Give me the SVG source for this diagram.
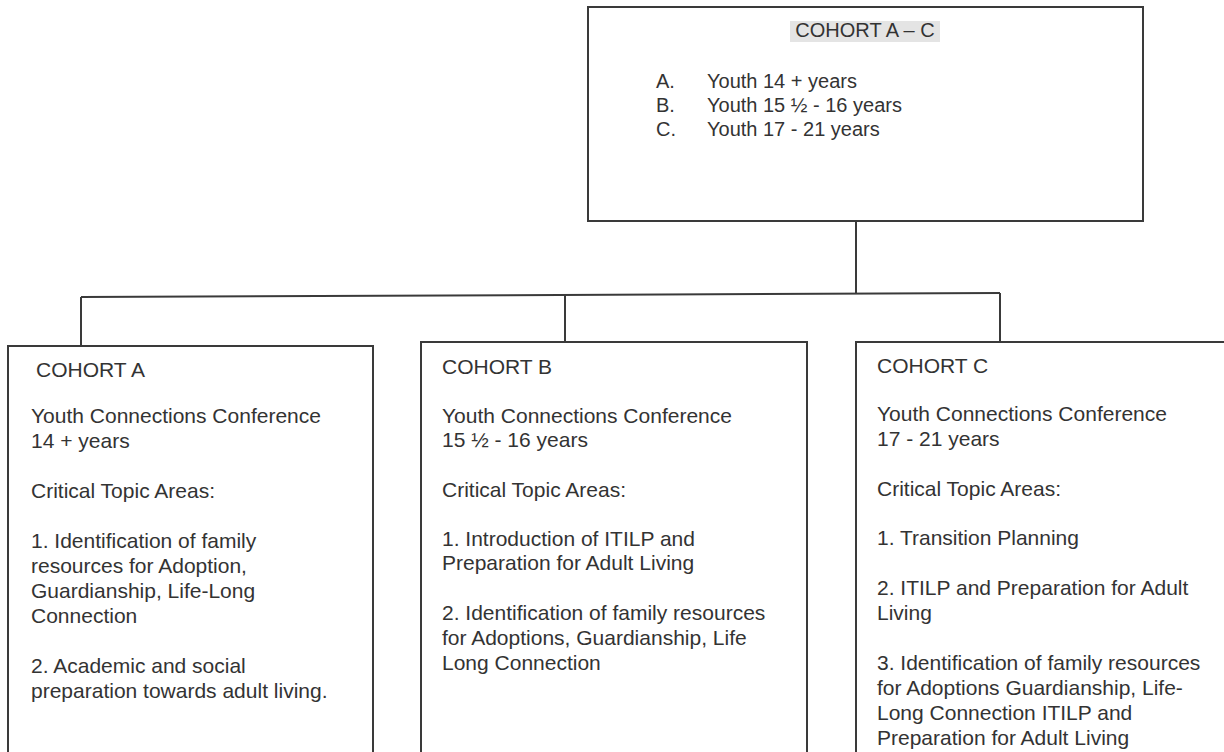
<svg xmlns="http://www.w3.org/2000/svg" width="1224" height="752" viewBox="0 0 1224 752">
<style>
.box{fill:#fff;stroke:#3a3a3a;stroke-width:2}
.t{font-family:"Liberation Sans",Arial,sans-serif;font-size:21px;fill:#333}
.s{font-family:"Liberation Sans",Arial,sans-serif;font-size:20px;fill:#333}
.c{fill:none;stroke:#3a3a3a;stroke-width:2}
</style>
<rect width="1224" height="752" fill="#fff"/>
<g id="connectors">
<line class="c" x1="856" y1="221" x2="856" y2="294"/>
<line class="c" x1="81" y1="297" x2="1000" y2="293"/>
<line class="c" x1="81" y1="297" x2="81" y2="346"/>
<line class="c" x1="565" y1="295" x2="565" y2="342"/>
<line class="c" x1="1000" y1="293" x2="1000" y2="342"/>
</g>
<g id="cohort-a-c">
<rect class="box" x="588" y="7" width="555" height="214"/>
<rect x="790" y="21" width="150" height="21" fill="#e4e4e4"/>
<text class="s" x="865" y="37" text-anchor="middle">COHORT A – C</text>
<text class="s" x="656" y="88">A.</text>
<text class="s" x="707" y="88">Youth 14 + years</text>
<text class="s" x="656" y="112">B.</text>
<text class="s" x="707" y="112">Youth 15 ½ - 16 years</text>
<text class="s" x="656" y="136">C.</text>
<text class="s" x="707" y="136">Youth 17 - 21 years</text>
</g>
<g id="cohort-a">
<rect class="box" x="8" y="346" width="365" height="420"/>
<text class="t" x="36" y="377">COHORT A</text>
<text class="t" x="31" y="423">Youth Connections Conference</text>
<text class="t" x="31" y="448">14 + years</text>
<text class="t" x="31" y="498">Critical Topic Areas:</text>
<text class="t" x="31" y="548">1.  Identification of family</text>
<text class="t" x="31" y="573">resources for Adoption,</text>
<text class="t" x="31" y="598">Guardianship, Life-Long</text>
<text class="t" x="31" y="623">Connection</text>
<text class="t" x="31" y="673">2. Academic and social</text>
<text class="t" x="31" y="698">preparation towards adult living.</text>
</g>
<g id="cohort-b">
<rect class="box" x="421" y="342" width="386" height="424"/>
<text class="t" x="442" y="374">COHORT B</text>
<text class="t" x="442" y="423">Youth Connections Conference</text>
<text class="t" x="442" y="447">15 ½ - 16  years</text>
<text class="t" x="442" y="497">Critical Topic Areas:</text>
<text class="t" x="442" y="546">1.  Introduction of ITILP and</text>
<text class="t" x="442" y="570">Preparation for Adult Living</text>
<text class="t" x="442" y="620">2.  Identification of family resources</text>
<text class="t" x="442" y="645">for Adoptions, Guardianship, Life</text>
<text class="t" x="442" y="670">Long Connection</text>
</g>
<g id="cohort-c">
<rect class="box" x="856" y="342" width="380" height="424"/>
<text class="t" x="877" y="373">COHORT C</text>
<text class="t" x="877" y="421">Youth Connections Conference</text>
<text class="t" x="877" y="446">17 - 21 years</text>
<text class="t" x="877" y="496">Critical Topic Areas:</text>
<text class="t" x="877" y="545">1.  Transition Planning</text>
<text class="t" x="877" y="595">2.  ITILP and Preparation for Adult</text>
<text class="t" x="877" y="620">Living</text>
<text class="t" x="877" y="670">3. Identification of family resources</text>
<text class="t" x="877" y="695">for Adoptions Guardianship, Life-</text>
<text class="t" x="877" y="720">Long Connection ITILP and</text>
<text class="t" x="877" y="745">Preparation for Adult Living</text>
</g>
</svg>
